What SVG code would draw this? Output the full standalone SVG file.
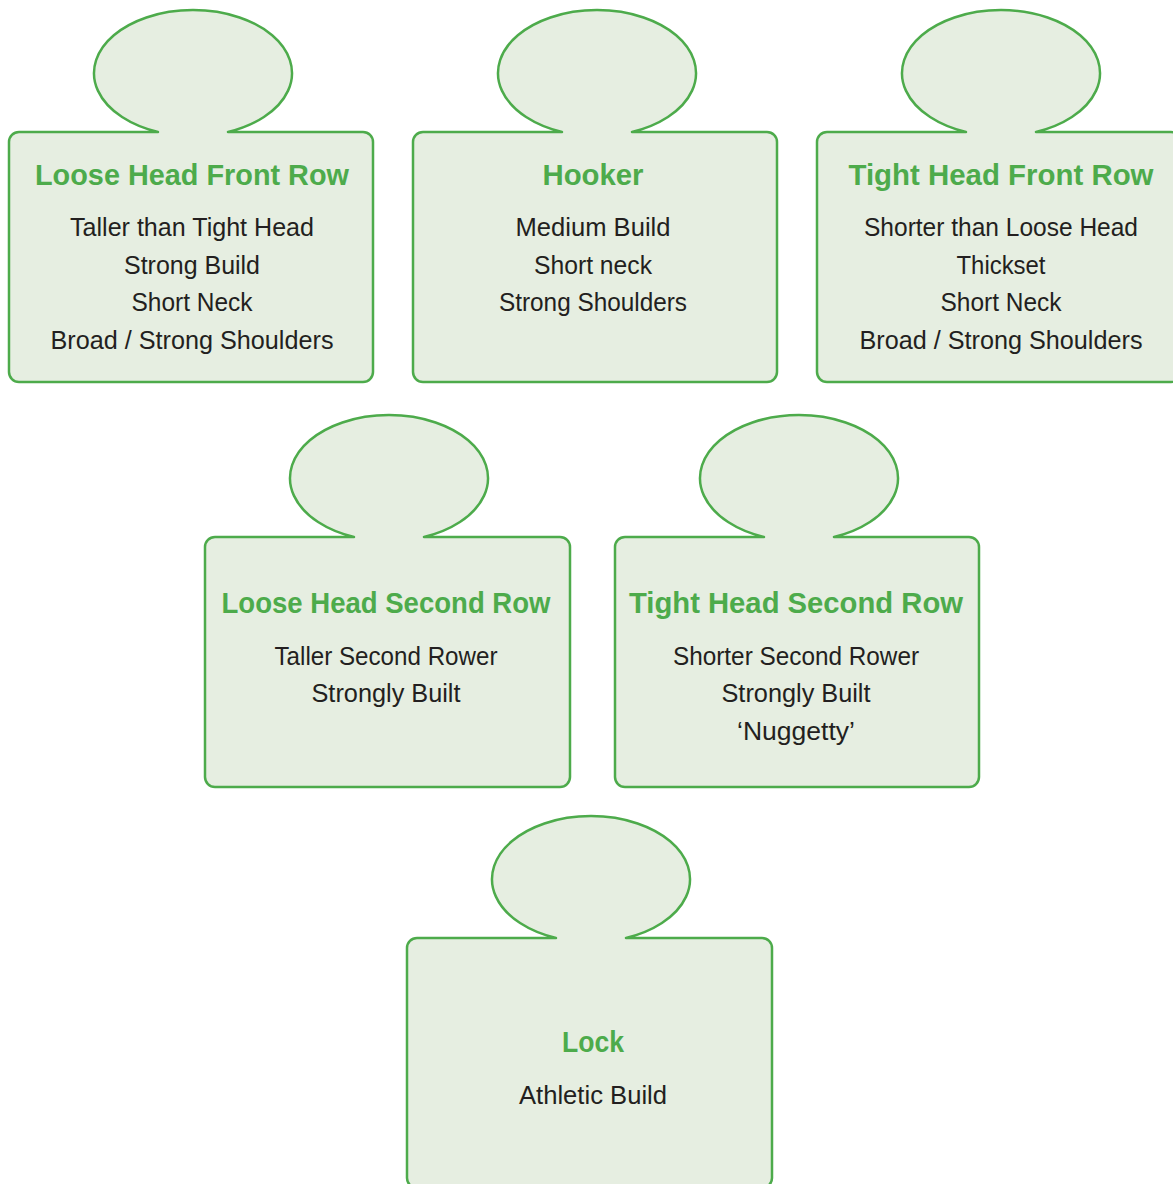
<svg xmlns="http://www.w3.org/2000/svg" width="1173" height="1184" viewBox="0 0 1173 1184">
<style>
.shape{fill:#e6eee1;stroke:#4dab4b;stroke-width:2.5;stroke-linejoin:round}
.t{font-family:"Liberation Sans",Arial,sans-serif;font-weight:bold;font-size:30px;fill:#4dab4b;text-anchor:middle}
.b{font-family:"Liberation Sans",Arial,sans-serif;font-size:25px;fill:#231f20;text-anchor:middle}
</style>
<rect width="1173" height="1184" fill="#ffffff"/>
<g id="loose-head-front-row">
<path class="shape" d="M19,132 H158 A99,63 0 1 1 228,132 H363 A10,10 0 0 1 373,142 V372 A10,10 0 0 1 363,382 H19 A10,10 0 0 1 9,372 V142 A10,10 0 0 1 19,132 Z"/>
<text class="t" x="192" y="185" textLength="314" lengthAdjust="spacingAndGlyphs">Loose Head Front Row</text>
<text class="b" x="192" y="236" textLength="244" lengthAdjust="spacingAndGlyphs">Taller than Tight Head</text>
<text class="b" x="192" y="274" textLength="136" lengthAdjust="spacingAndGlyphs">Strong Build</text>
<text class="b" x="192" y="311" textLength="121" lengthAdjust="spacingAndGlyphs">Short Neck</text>
<text class="b" x="192" y="349" textLength="283" lengthAdjust="spacingAndGlyphs">Broad / Strong Shoulders</text>
</g>
<g id="hooker">
<path class="shape" d="M423,132 H562 A99,63 0 1 1 632,132 H767 A10,10 0 0 1 777,142 V372 A10,10 0 0 1 767,382 H423 A10,10 0 0 1 413,372 V142 A10,10 0 0 1 423,132 Z"/>
<text class="t" x="593" y="185" textLength="101" lengthAdjust="spacingAndGlyphs">Hooker</text>
<text class="b" x="593" y="236" textLength="155" lengthAdjust="spacingAndGlyphs">Medium Build</text>
<text class="b" x="593" y="274" textLength="118" lengthAdjust="spacingAndGlyphs">Short neck</text>
<text class="b" x="593" y="311" textLength="188" lengthAdjust="spacingAndGlyphs">Strong Shoulders</text>
</g>
<g id="tight-head-front-row">
<path class="shape" d="M827,132 H966 A99,63 0 1 1 1036,132 H1171 A10,10 0 0 1 1181,142 V372 A10,10 0 0 1 1171,382 H827 A10,10 0 0 1 817,372 V142 A10,10 0 0 1 827,132 Z"/>
<text class="t" x="1001" y="185" textLength="305" lengthAdjust="spacingAndGlyphs">Tight Head Front Row</text>
<text class="b" x="1001" y="236" textLength="274" lengthAdjust="spacingAndGlyphs">Shorter than Loose Head</text>
<text class="b" x="1001" y="274" textLength="89" lengthAdjust="spacingAndGlyphs">Thickset</text>
<text class="b" x="1001" y="311" textLength="121" lengthAdjust="spacingAndGlyphs">Short Neck</text>
<text class="b" x="1001" y="349" textLength="283" lengthAdjust="spacingAndGlyphs">Broad / Strong Shoulders</text>
</g>
<g id="loose-head-second-row">
<path class="shape" d="M215,537 H354 A99,63 0 1 1 424,537 H560 A10,10 0 0 1 570,547 V777 A10,10 0 0 1 560,787 H215 A10,10 0 0 1 205,777 V547 A10,10 0 0 1 215,537 Z"/>
<text class="t" x="386" y="613" textLength="329" lengthAdjust="spacingAndGlyphs">Loose Head Second Row</text>
<text class="b" x="386" y="665" textLength="223" lengthAdjust="spacingAndGlyphs">Taller Second Rower</text>
<text class="b" x="386" y="702" textLength="149" lengthAdjust="spacingAndGlyphs">Strongly Built</text>
</g>
<g id="tight-head-second-row">
<path class="shape" d="M625,537 H764 A99,63 0 1 1 834,537 H969 A10,10 0 0 1 979,547 V777 A10,10 0 0 1 969,787 H625 A10,10 0 0 1 615,777 V547 A10,10 0 0 1 625,537 Z"/>
<text class="t" x="796" y="613" textLength="334" lengthAdjust="spacingAndGlyphs">Tight Head Second Row</text>
<text class="b" x="796" y="665" textLength="246" lengthAdjust="spacingAndGlyphs">Shorter Second Rower</text>
<text class="b" x="796" y="702" textLength="149" lengthAdjust="spacingAndGlyphs">Strongly Built</text>
<text class="b" x="796" y="740" textLength="118" lengthAdjust="spacingAndGlyphs">‘Nuggetty’</text>
</g>
<g id="lock">
<path class="shape" d="M417,938 H556 A99,63 0 1 1 626,938 H762 A10,10 0 0 1 772,948 V1178 A10,10 0 0 1 762,1188 H417 A10,10 0 0 1 407,1178 V948 A10,10 0 0 1 417,938 Z"/>
<text class="t" x="593" y="1052" textLength="62" lengthAdjust="spacingAndGlyphs">Lock</text>
<text class="b" x="593" y="1104" textLength="148" lengthAdjust="spacingAndGlyphs">Athletic Build</text>
</g>
</svg>
